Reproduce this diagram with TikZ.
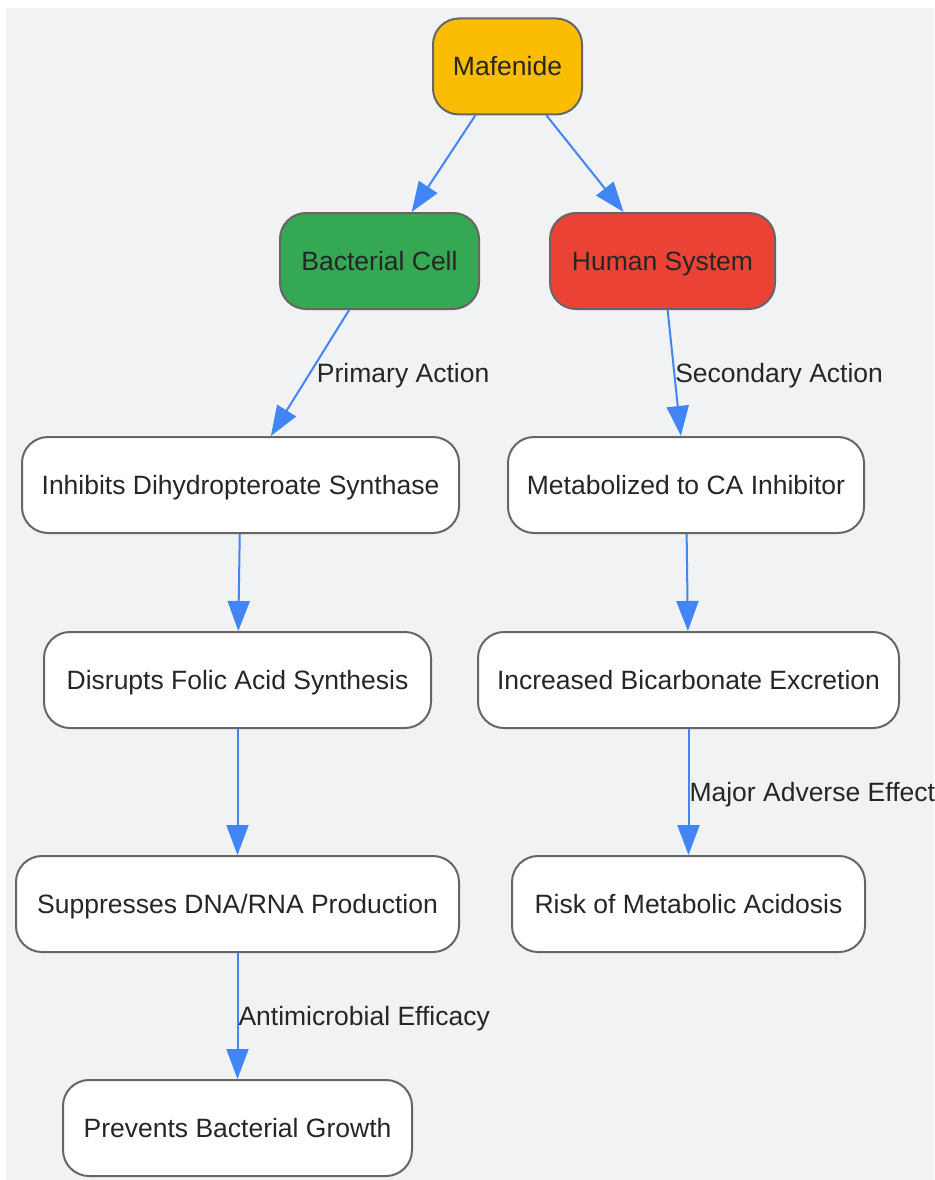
\documentclass[tikz,border=0pt]{standalone}
\usepackage{fontspec}
\setmainfont{Liberation Sans}
\usetikzlibrary{arrows.meta}
\definecolor{bgcol}{HTML}{F1F2F4}
\definecolor{edgegray}{HTML}{666666}
\definecolor{txtcol}{HTML}{262626}
\definecolor{flowblue}{HTML}{4285F4}
\definecolor{mafcol}{HTML}{FBBC04}
\definecolor{bactcol}{HTML}{34A853}
\definecolor{humancol}{HTML}{EA4335}

\begin{document}
\begin{tikzpicture}[x=1pt,y=-1pt,
  box/.style={draw=edgegray,line width=2pt,rounded corners=26pt,fill=white,
    minimum height=96pt,inner sep=0pt,text height=19pt,text depth=0pt,
    text=txtcol,font=\fontsize{26.5}{30}\selectfont},
  flow/.style={draw=flowblue,line width=2pt,-{Triangle[length=30pt,width=22pt]}},
  lbl/.style={anchor=west,inner sep=0pt,text height=19pt,text depth=0pt,
    text=txtcol,font=\fontsize{26.5}{30}\selectfont}]
\useasboundingbox (0,0) rectangle (934,1180);
\fill[bgcol] (6,8) rectangle (934,1180);

\node[box,fill=mafcol,minimum width=149pt] (maf) at (507.5,66.5) {Mafenide};
\node[box,fill=bactcol,minimum width=199pt] (bact) at (379.5,261) {Bacterial Cell};
\node[box,fill=humancol,minimum width=225pt] (human) at (662.5,261) {Human System};
\node[box,minimum width=437pt] (inhib) at (240.5,485) {Inhibits Dihydropteroate Synthase};
\node[box,minimum width=356pt] (metab) at (686,485) {Metabolized to CA Inhibitor};
\node[box,minimum width=387pt] (folic) at (237.5,680) {Disrupts Folic Acid Synthesis};
\node[box,minimum width=421pt] (bicarb) at (688.5,680) {Increased Bicarbonate Excretion};
\node[box,minimum width=443pt] (dna) at (237.5,904) {Suppresses DNA/RNA Production};
\node[box,minimum width=353pt] (acid) at (688.5,904) {Risk of Metabolic Acidosis};
\node[box,minimum width=349pt] (growth) at (237.5,1128) {Prevents Bacterial Growth};

\draw[flow] (maf) -- (bact);
\draw[flow] (maf) -- (human);
\draw[flow] (bact) -- node[lbl,xshift=6pt] {Primary Action} (inhib);
\draw[flow] (human) -- node[lbl] {Secondary Action} (metab);
\draw[flow] (inhib) -- (folic);
\draw[flow] (metab) -- (bicarb);
\draw[flow] (folic) -- (dna);
\draw[flow] (bicarb) -- node[lbl] {Major Adverse Effect} (acid);
\draw[flow] (dna) -- node[lbl] {Antimicrobial Efficacy} (growth);
\end{tikzpicture}
\end{document}
